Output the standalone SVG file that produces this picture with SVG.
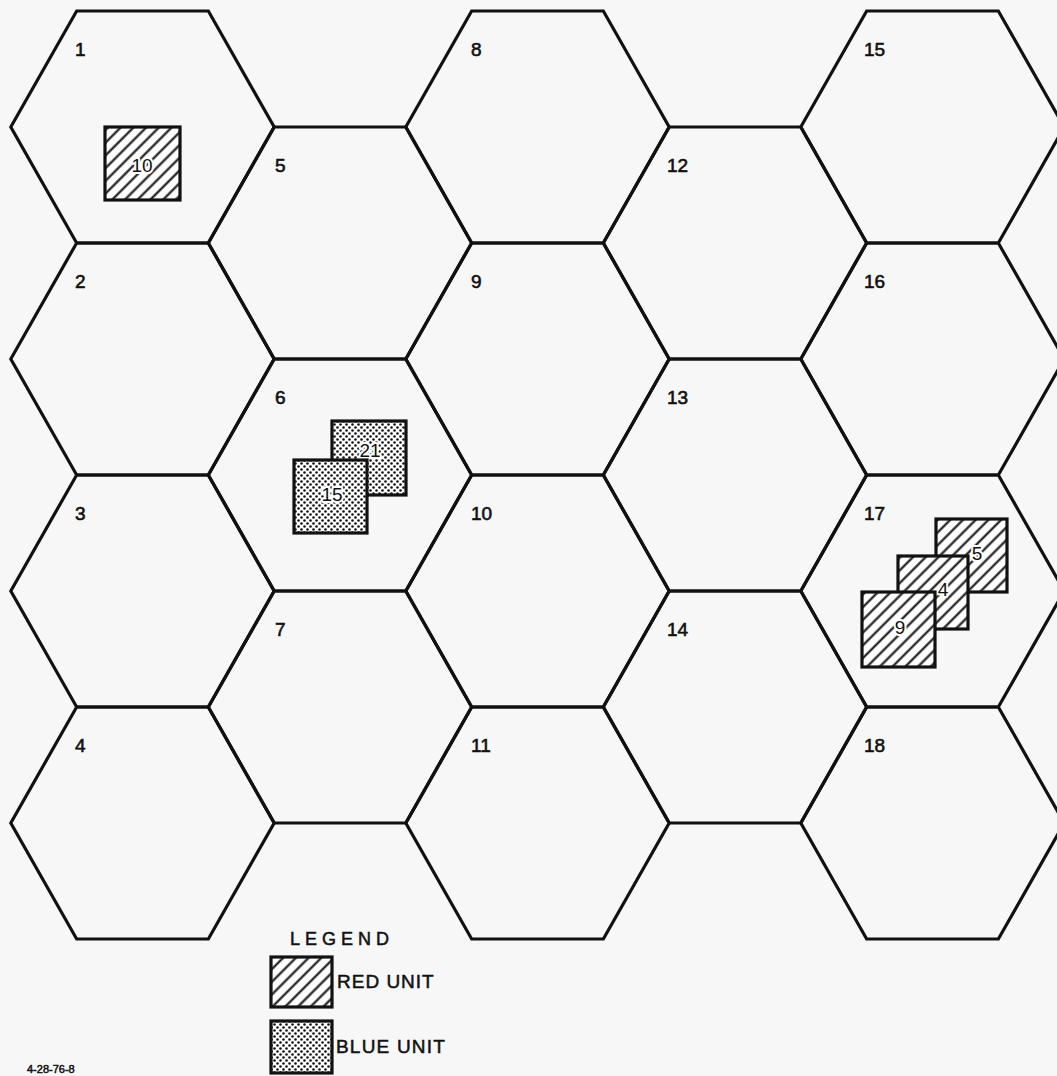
<svg xmlns="http://www.w3.org/2000/svg" xmlns:xlink="http://www.w3.org/1999/xlink" width="1057" height="1076" viewBox="0 0 1057 1076">
  <style>
    .hex { fill: none; stroke: #111; stroke-width: 3.2; stroke-linejoin: miter; }
    .lbl { font-family: "Liberation Sans", Arial, sans-serif; font-size: 19px; fill: #111; stroke: #111; stroke-width: 0.6; }
    .unit-red { fill: url(#hatch); stroke: #111; stroke-width: 3.2; }
    .unit-blue { fill: url(#dots); stroke: #111; stroke-width: 3.2; }
    .ulbl { font-family: "Liberation Sans", Arial, sans-serif; font-size: 19px; fill: #111; text-anchor: middle; stroke: #ffffff; stroke-width: 4; paint-order: stroke; stroke-linejoin: round; }
    .leg { font-family: "Liberation Sans", Arial, sans-serif; fill: #111; stroke: #111; stroke-width: 0.5; }
  </style>
  <defs>
    <polygon id="hexshape" points="-131.7,0 -65.85,-116 65.85,-116 131.7,0 65.85,116 -65.85,116"/>
    <pattern id="hatch" patternUnits="userSpaceOnUse" width="9" height="9" patternTransform="rotate(45)">
      <rect width="9" height="9" fill="#ffffff"/>
      <line x1="4.5" y1="0" x2="4.5" y2="9" stroke="#111" stroke-width="2.1"/>
    </pattern>
    <pattern id="dots" patternUnits="userSpaceOnUse" width="6" height="6">
      <rect width="6" height="6" fill="#ffffff"/>
      <circle cx="1.5" cy="1.5" r="1.3" fill="#111"/>
      <circle cx="4.5" cy="4.5" r="1.3" fill="#111"/>
    </pattern>
  </defs>
  <rect width="1057" height="1076" fill="#f7f7f7"/>

  <g id="hexes">
    <g id="hex1"><use href="#hexshape" class="hex" x="142.5" y="127"/><text class="lbl" x="75" y="56">1</text></g>
    <g id="hex2"><use href="#hexshape" class="hex" x="142.5" y="359"/><text class="lbl" x="75" y="288">2</text></g>
    <g id="hex3"><use href="#hexshape" class="hex" x="142.5" y="591"/><text class="lbl" x="75" y="520">3</text></g>
    <g id="hex4"><use href="#hexshape" class="hex" x="142.5" y="823"/><text class="lbl" x="75" y="752">4</text></g>

    <g id="hex5"><use href="#hexshape" class="hex" x="340" y="243"/><text class="lbl" x="275" y="172">5</text></g>
    <g id="hex6"><use href="#hexshape" class="hex" x="340" y="475"/><text class="lbl" x="275" y="404">6</text></g>
    <g id="hex7"><use href="#hexshape" class="hex" x="340" y="707"/><text class="lbl" x="275" y="636">7</text></g>

    <g id="hex8"><use href="#hexshape" class="hex" x="537.5" y="127"/><text class="lbl" x="471" y="56">8</text></g>
    <g id="hex9"><use href="#hexshape" class="hex" x="537.5" y="359"/><text class="lbl" x="471" y="288">9</text></g>
    <g id="hex10"><use href="#hexshape" class="hex" x="537.5" y="591"/><text class="lbl" x="471" y="520">10</text></g>
    <g id="hex11"><use href="#hexshape" class="hex" x="537.5" y="823"/><text class="lbl" x="471" y="752">11</text></g>

    <g id="hex12"><use href="#hexshape" class="hex" x="735" y="243"/><text class="lbl" x="667" y="172">12</text></g>
    <g id="hex13"><use href="#hexshape" class="hex" x="735" y="475"/><text class="lbl" x="667" y="404">13</text></g>
    <g id="hex14"><use href="#hexshape" class="hex" x="735" y="707"/><text class="lbl" x="667" y="636">14</text></g>

    <g id="hex15"><use href="#hexshape" class="hex" x="932.5" y="127"/><text class="lbl" x="864" y="56">15</text></g>
    <g id="hex16"><use href="#hexshape" class="hex" x="932.5" y="359"/><text class="lbl" x="864" y="288">16</text></g>
    <g id="hex17"><use href="#hexshape" class="hex" x="932.5" y="591"/><text class="lbl" x="864" y="520">17</text></g>
    <g id="hex18"><use href="#hexshape" class="hex" x="932.5" y="823"/><text class="lbl" x="864" y="752">18</text></g>
  </g>

  <g id="connectors"></g>

  <g id="units">
    <g id="red10"><rect class="unit-red" x="105" y="127" width="75" height="73"/><text class="ulbl" x="142" y="172">10</text></g>
    <g id="blue21"><rect class="unit-blue" x="332" y="421" width="74" height="74"/><text class="ulbl" x="370" y="457">21</text></g>
    <g id="blue15"><rect class="unit-blue" x="294" y="460" width="73" height="73"/><text class="ulbl" x="332" y="501">15</text></g>
    <g id="red5"><rect class="unit-red" x="936" y="519" width="71" height="73"/><text class="ulbl" x="977" y="560">5</text></g>
    <g id="red4"><rect class="unit-red" x="898" y="556" width="70" height="73"/><text class="ulbl" x="943" y="596">4</text></g>
    <g id="red9"><rect class="unit-red" x="862" y="592" width="73" height="75"/><text class="ulbl" x="900" y="634">9</text></g>
  </g>

  <g id="legend">
    <text class="leg" x="290" y="945" font-size="18" letter-spacing="5">LEGEND</text>
    <rect class="unit-red" x="271" y="957" width="61" height="50"/>
    <text class="leg" x="337" y="988" font-size="19" letter-spacing="1">RED UNIT</text>
    <rect class="unit-blue" x="271" y="1021" width="61" height="52"/>
    <text class="leg" x="336" y="1053" font-size="19" letter-spacing="1.2">BLUE UNIT</text>
  </g>

  <text class="leg" x="27" y="1073" font-size="11" stroke-width="0.2">4-28-76-8</text>
</svg>
